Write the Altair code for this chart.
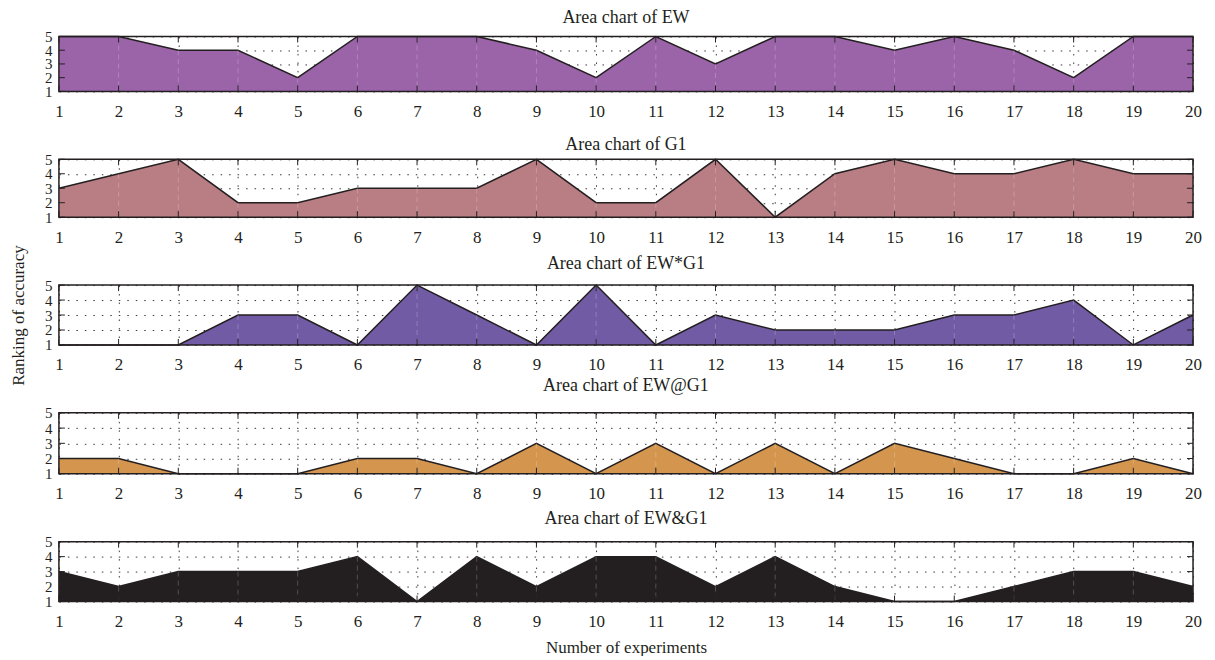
import altair as alt
import pandas as pd

experiments = list(range(1, 21))
rank_ticks = [1, 2, 3, 4, 5]
titles = ["Area chart of EW", "Area chart of G1", "Area chart of EW*G1",
          "Area chart of EW@G1", "Area chart of EW&G1"]
ew = [5, 5, 4, 4, 2, 5, 5, 5, 4, 2, 5, 3, 5, 5, 4, 5, 4, 2, 5, 5]
g1 = [3, 4, 5, 2, 2, 3, 3, 3, 5, 2, 2, 5, 1, 4, 5, 4, 4, 5, 4, 4]
ew_x_g1 = [1, 1, 1, 3, 3, 1, 5, 3, 1, 5, 1, 3, 2, 2, 2, 3, 3, 4, 1, 3]
ew_at_g1 = [2, 2, 1, 1, 1, 2, 2, 1, 3, 1, 3, 1, 3, 1, 3, 2, 1, 1, 2, 1]
ew_and_g1 = [3, 2, 3, 3, 3, 4, 1, 4, 2, 4, 4, 2, 4, 2, 1, 1, 2, 3, 3, 2]
series = [ew, g1, ew_x_g1, ew_at_g1, ew_and_g1]
colors = ["#9b64a8", "#b97e84", "#715ba5", "#d4964f", "#231f20"]

INK = "#231f20"
FONT = "Liberation Serif"
W = 1136
heights = [55, 58, 60, 61, 60]
title_offsets = [3, -2, -28, 11, 7]

frame_df = pd.DataFrame({"frame": [0]})
ydf = pd.DataFrame({"r": rank_ticks})


def panel(i):
    h = heights[i]
    df = pd.DataFrame({"exp": experiments, "rank": series[i]})
    xtitle = "Number of experiments" if i == 4 else None
    ytitle = "Ranking of accuracy" if i == 2 else None
    xaxis = alt.Axis(values=experiments, title=xtitle, labelFlush=False, labelOverlap=False)
    yaxis = alt.Axis(values=rank_ticks, title=ytitle, labelOverlap=False)
    xs = alt.Scale(domain=[1, 20], nice=False, zero=False)
    ys = alt.Scale(domain=[1, 5], nice=False, zero=False)
    x = alt.X("exp:Q", scale=xs, axis=xaxis)
    y = alt.Y("rank:Q", scale=ys, axis=yaxis)

    area = alt.Chart(df).mark_area(
        color=colors[i], opacity=1,
        line=alt.OverlayMarkDef(color=INK, strokeWidth=1.5)
    ).encode(x=x, y=y, y2=alt.datum(1))
    inner = alt.Chart(df).mark_rule(
        color="white", opacity=0.22, strokeDash=[5, 4]
    ).encode(x=x, y=y, y2=alt.datum(1))
    top_ticks = alt.Chart(df).mark_rule(color=INK, strokeWidth=1).encode(
        x=x, y=alt.value(0), y2=alt.value(6))
    bot_ticks = alt.Chart(df).mark_rule(color=INK, strokeWidth=1).encode(
        x=x, y=alt.value(h), y2=alt.value(h - 6))
    yt = alt.Y("r:Q", scale=ys, axis=yaxis)
    left_ticks = alt.Chart(ydf).mark_rule(color=INK, strokeWidth=1).encode(
        y=yt, x=alt.value(0), x2=alt.value(6))
    right_ticks = alt.Chart(ydf).mark_rule(color=INK, strokeWidth=1).encode(
        y=yt, x=alt.value(W), x2=alt.value(W - 6))
    frame = alt.Chart(frame_df).mark_rect(
        filled=False, stroke=INK, strokeWidth=1.5
    ).encode(x=alt.value(0), x2=alt.value(W), y=alt.value(0), y2=alt.value(h))

    return alt.layer(area, inner, top_ticks, bot_ticks, left_ticks, right_ticks, frame).properties(
        width=W, height=h,
        title=alt.TitleParams(titles[i], offset=title_offsets[i])
    )


chart = alt.vconcat(*[panel(i) for i in range(5)], spacing=68, bounds="flush").properties(
    padding={"left": 1, "top": 0, "right": 5, "bottom": 0}
).configure_view(stroke=None).configure_axis(
    labelFont=FONT, labelFontSize=17, labelColor=INK,
    titleFont=FONT, titleFontSize=17, titleFontWeight="normal", titleColor=INK,
    ticks=False, domain=False,
    gridColor=INK, gridDash=[1.5, 7], gridWidth=1, gridOpacity=0.9,
    labelPadding=12
).configure_axisY(
    labelFontSize=15, labelPadding=7, titlePadding=17
).configure_axisX(
    titlePadding=10
).configure_title(
    font=FONT, fontSize=18, fontWeight="normal", color=INK, anchor="middle"
)

chart.save("out.html", embed_options={"renderer": "svg", "actions": False})
